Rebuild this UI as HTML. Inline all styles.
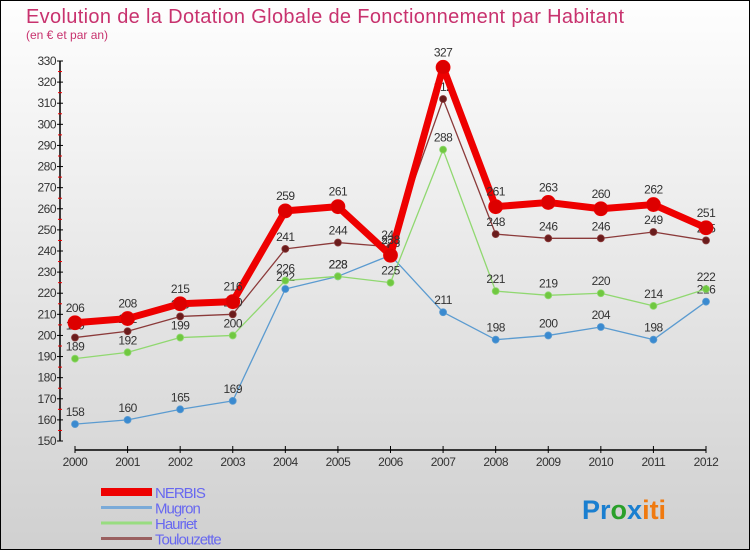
<!DOCTYPE html>
<html><head><meta charset="utf-8">
<style>
html,body{margin:0;padding:0}
body{width:750px;height:550px;overflow:hidden;font-family:"Liberation Sans",sans-serif}
#wrap{position:relative;width:748px;height:548px;border:1px solid #000;background:linear-gradient(#fefefe,#d0d0d0)}
</style></head><body>
<div id="wrap">
<svg id="chart" width="748" height="548" viewBox="0 0 748 548">
<text x="25" y="22" font-size="20" fill="#c8326e" textLength="598">Evolution de la Dotation Globale de Fonctionnement par Habitant</text>
<text x="25" y="38" font-size="12" fill="#c8326e">(en € et par an)</text>
<g id="axes"></g>
<g id="series"></g>
<g id="legend"></g>
<text x="581" y="518" font-size="27" font-weight="bold"><tspan fill="#1a7fd0">Pr</tspan><tspan fill="#2aa02a">o</tspan><tspan fill="#1a7fd0">x</tspan><tspan fill="#f07a10">iti</tspan></text>
</svg>
</div>
<script>
const years=[2000,2001,2002,2003,2004,2005,2006,2007,2008,2009,2010,2011,2012];
const yTicks=[150,160,170,180,190,200,210,220,230,240,250,260,270,280,290,300,310,320,330];
const nerbis=[206,208,215,216,259,261,238,327,261,263,260,262,251];
const mugron=[158,160,165,169,222,228,238,211,198,200,204,198,216];
const hauriet=[189,192,199,200,226,228,225,288,221,219,220,214,222];
const toulouzette=[199,202,209,210,241,244,242,312,248,246,246,249,245];
const seriesNames=["NERBIS","Mugron","Hauriet","Toulouzette"];

const NS="http://www.w3.org/2000/svg";
const X0=74,X1=705,Y0=440,Y1=60,VMIN=150,VMAX=330;
const xs=i=>X0+(X1-X0)*i/(years.length-1);
const ys=v=>Y0-(v-VMIN)*(Y0-Y1)/(VMAX-VMIN);
function mk(tag,attrs,parent){const e=document.createElementNS(NS,tag);for(const k in attrs)e.setAttribute(k,attrs[k]);parent.appendChild(e);return e;}
const axes=document.getElementById('axes');
const yAxis=mk('line',{x1:59,y1:Y1,x2:59,y2:Y0,stroke:'#000','stroke-width':1.5},axes);


yTicks.forEach((t,i)=>{
  const y=ys(t);
  mk('line',{x1:56,y1:y,x2:62,y2:y,stroke:'#000'},axes);
  const tx=mk('text',{x:55,y:y+4,'font-size':12,fill:'#333','text-anchor':'end','letter-spacing':'-0.5'},axes);
  tx.textContent=t;
  
  
  if(i<yTicks.length-1){const ym=ys(t+5);mk('line',{x1:57,y1:ym,x2:61,y2:ym,stroke:'#e00'},axes);}
});
const xAxis=mk('line',{x1:X0,y1:449,x2:X1,y2:449,stroke:'#000','stroke-width':1.5},axes);


years.forEach((yr,i)=>{
  const x=xs(i);
  mk('line',{x1:x,y1:445,x2:x,y2:452,stroke:'#000'},axes);
  const tx=mk('text',{x:x,y:465,'font-size':12,fill:'#333','text-anchor':'middle','letter-spacing':'-0.5'},axes);
  tx.textContent=yr;
  
  
});
const sg=document.getElementById('series');
function draw(data,color,dot,width,r,name,labelDy){
  const g=mk('g',{},sg);
  
  
  const p=mk('polyline',{points:data.map((v,i)=>xs(i)+','+ys(v)).join(' '),fill:'none',stroke:color,'stroke-width':width,'stroke-linejoin':'round'},g);
  
  
  data.forEach((v,i)=>{
    const c=mk('circle',{cx:xs(i),cy:ys(v),r:r,fill:dot,stroke:color,'stroke-width':0.8},g);
    
    
    const t=mk('text',{x:xs(i),y:ys(v)+labelDy,'font-size':12,fill:'#333','text-anchor':'middle','letter-spacing':'-0.5'},g);
    t.textContent=v;
    
    
  });
}
draw(mugron,'#5b9bd0','#3a8ad0',1.3,3.5,'mugron',-8);
draw(hauriet,'#90d870','#70c840',1.3,3.5,'hauriet',-8);
draw(toulouzette,'#8b3a3a','#6a1c1c',1.3,3.5,'toulouzette',-8);
draw(nerbis,'#ee0000','#dd0000',7,7,'nerbis',-11);
const lg=document.getElementById('legend');
const lc=['#ee0000','#7aaad8','#98dc80','#9a6060'];
const lw=[8,3,3,3];
seriesNames.forEach((n,i)=>{
  const y=491+i*15.5;
  const g=mk('g',{},lg);
  
  
  mk('line',{x1:100,y1:y,x2:151,y2:y,stroke:lc[i],'stroke-width':lw[i]},g);
  const t=mk('text',{x:154,y:y+6,'font-size':15,fill:'#6868f0','letter-spacing':'-1'},g);
  t.textContent=n;
});
</script>
</body></html>
